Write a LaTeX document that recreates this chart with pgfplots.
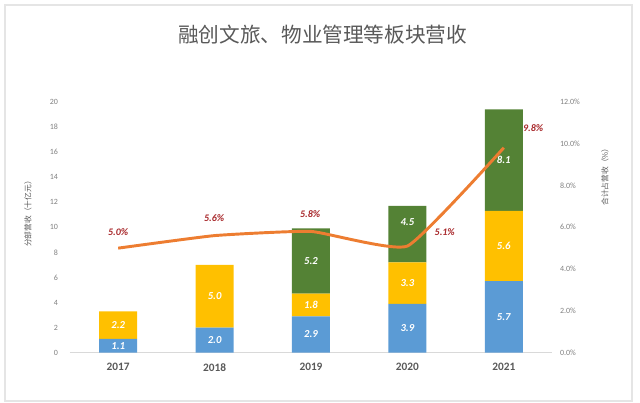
\documentclass[border=0pt]{standalone}
\usepackage{pgfplots}
\pgfplotsset{compat=1.18}
\usepackage{pgfplotstable}
\usepackage{fontspec}
\setmainfont{Carlito}
\newfontfamily\cjk{Noto Sans CJK SC}
\definecolor{cblue}{HTML}{5B9BD5}
\definecolor{cgold}{HTML}{FFC000}
\definecolor{cgreen}{HTML}{548235}
\definecolor{corange}{HTML}{ED7D31}
\definecolor{cred}{HTML}{A8282B}
\definecolor{tgray}{HTML}{595959}
\definecolor{lgray}{HTML}{808080}

\pgfplotstableread{
x a b c la lb lc oa ob oc
0 1.1 2.2 0   1.1 2.2 {} 0 0 0
1 2.0 5.0 0   2.0 5.0 {} 0 0 0
2 2.9 1.8 5.2 2.9 1.8 5.2 0 0 0
3 3.9 3.3 4.5 3.9 3.3 4.5 0 0 9
4 5.7 5.6 8.1 5.7 5.6 8.1 0 0 0
}\bars

\pgfplotstableread{
x p dx dy lp
0 5.0 0 12 5.0
1 5.6 -0.4 13.2 5.6
2 5.8 -0.6 12.8 5.8
3 5.1 28 10.5 5.1
4 9.8 22 15 9.8
}\share

\pgfplotsset{
  barlbl/.style={
    visualization depends on={\thisrow{o#1} \as \o},
    point meta=explicit symbolic,
    nodes near coords={\pgfplotspointmeta},
    every node near coord/.style={anchor=center, yshift=\o pt,
      font=\fontsize{8}{9}\selectfont\bfseries\itshape, text=white},
  }
}

\begin{document}
\begin{tikzpicture}
\useasboundingbox (0,0) rectangle (480pt,302.25pt);
\draw[gray!20, line width=0.8pt] (3.75pt,1.5pt) rectangle (474pt,298.5pt);
\node[font=\cjk\fontsize{15.5}{18}\selectfont, text=tgray] at (242pt,276pt) {融创文旅、物业管理等板块营收};
\node[font=\cjk\fontsize{5.8}{7}\selectfont, text=tgray, rotate=90] at (21pt,143.25pt) {分部营收（十亿元）};
\node[font=\cjk\fontsize{5.8}{7}\selectfont, text=tgray, rotate=90] at (453.75pt,171pt) {合计占营收（\%）};

\begin{axis}[
  at={(52.5pt,37.7pt)}, anchor=south west,
  scale only axis, width=361.5pt, height=188.25pt,
  ybar stacked, bar width=28.5pt,
  xmin=-0.5, xmax=4.5, ymin=0, ymax=20,
  xtick={0,1,2,3,4}, xticklabels={2017,2018,2019,2020,2021},
  ytick={0,2,...,20},
  axis x line*=bottom, axis y line*=left,
  x axis line style={draw=gray!30, line width=0.8pt, -},
  y axis line style={draw=none},
  major tick length=0pt, tick style={draw=none},
  /pgf/number format/assume math mode=true,
  yticklabel style={font=\fontsize{6}{7}\selectfont, text=lgray, xshift=-5.5pt},
  xticklabel style={font=\fontsize{8.5}{10}\selectfont\bfseries, text=tgray, yshift=-4.5pt},
  clip=false,
]
\addplot[fill=cblue, draw=none, barlbl=a] table[x=x,y=a,meta=la]{\bars};
\addplot[fill=cgold, draw=none, barlbl=b] table[x=x,y=b,meta=lb]{\bars};
\addplot[fill=cgreen, draw=none, barlbl=c] table[x=x,y=c,meta=lc]{\bars};
\end{axis}

\begin{axis}[
  at={(52.5pt,37.7pt)}, anchor=south west,
  scale only axis, width=361.5pt, height=188.25pt,
  xmin=-0.5, xmax=4.5, ymin=0, ymax=12,
  ytick={0,2,...,12},
  axis y line*=right, axis x line=none,
  y axis line style={draw=none},
  major tick length=0pt, tick style={draw=none},
  /pgf/number format/assume math mode=true,
  yticklabel={\pgfmathprintnumber[fixed,fixed zerofill,precision=1]{\tick}\%},
  yticklabel style={font=\fontsize{6}{7}\selectfont, text=lgray, xshift=2.5pt},
  clip=false,
]
\addplot[color=corange, line width=2.2pt, smooth, tension=0.25,
  visualization depends on={\thisrow{dx} \as \dx},
  visualization depends on={\thisrow{dy} \as \dy},
  point meta=explicit symbolic,
  nodes near coords={\pgfplotspointmeta\%},
  every node near coord/.style={anchor=center, xshift=\dx pt, yshift=\dy pt,
    font=\fontsize{7.5}{9}\selectfont\bfseries\itshape, text=cred},
] table[x=x,y=p,meta=lp]{\share};
\end{axis}
\end{tikzpicture}
\end{document}
